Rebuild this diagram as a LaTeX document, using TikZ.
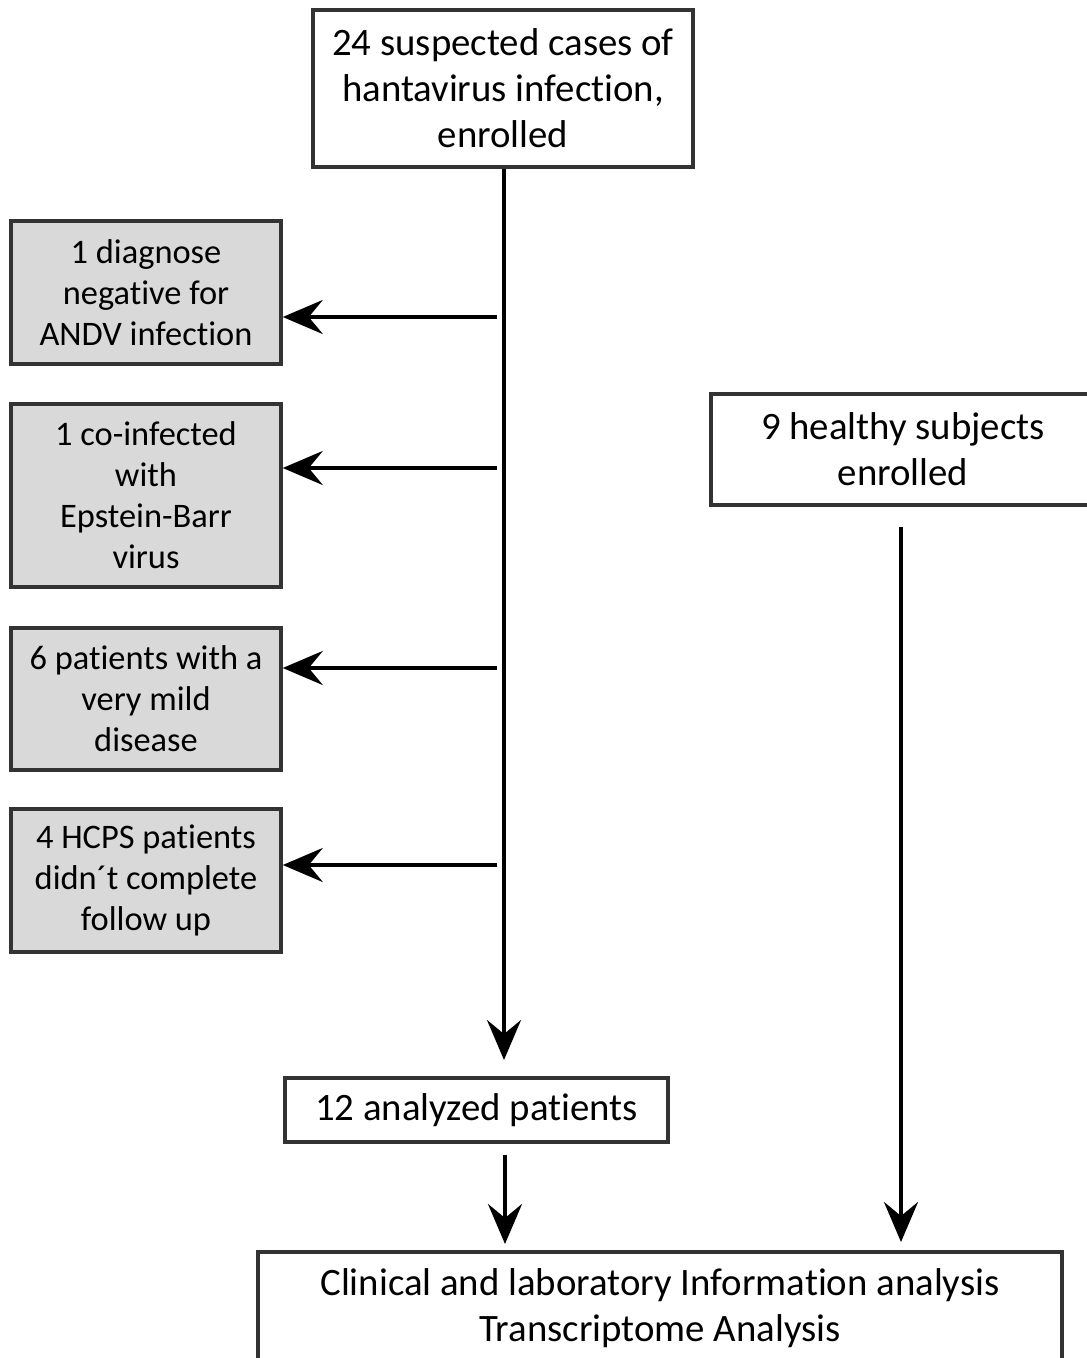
\documentclass[tikz,border=0pt]{standalone}
\usepackage{fontspec}
\setmainfont{Carlito}[Ligatures={NoCommon,NoContextual}]
\usetikzlibrary{arrows.meta}
\definecolor{boxline}{HTML}{333333}
\definecolor{boxgray}{HTML}{D9D9D9}
\tikzset{
  box/.style={draw=boxline, line width=3.5pt, align=center, inner sep=0pt, fill=white},
  graybox/.style={box, fill=boxgray, minimum width=270, font=\fontsize{34.4}{41}\selectfont},
  bigtext/.style={font=\fontsize{38.8}{46}\selectfont},
  arr/.style={line width=4pt, -{Stealth[length=40pt,width=34pt,inset=14pt]}}
}
\begin{document}
\begin{tikzpicture}[x=1pt,y=-1pt]
\useasboundingbox (0,0) rectangle (1087,1358);
\clip (0,0) rectangle (1087,1358);
\node[box, bigtext, minimum width=380, minimum height=157] (top) at (503,88.5)
  {24 suspected cases of\\hantavirus infection,\\enrolled};
\node[graybox, minimum height=143] (b1) at (146,292.5)
  {1 diagnose\\negative for\\ANDV infection};
\node[graybox, minimum height=183] (b2) at (146,495.5)
  {1 co-infected\\with\\Epstein-Barr\\virus};
\node[graybox, minimum height=142] (b3) at (146,699)
  {6 patients with a\\very mild\\disease};
\node[graybox, minimum height=143] (b4) at (146,880.5)
  {4 HCPS patients\\didn´t complete\\follow up};
\node[box, bigtext, minimum width=384, minimum height=111] (hs) at (903,449.5)
  {9 healthy subjects\\enrolled};
\node[box, bigtext, minimum width=383, minimum height=64] (ana) at (476.5,1110)
  {12 analyzed patients};
\node[box, bigtext, minimum width=804, minimum height=112] (fin) at (660,1308)
  {Clinical and laboratory Information analysis\\Transcriptome Analysis};
\coordinate (mainend) at (504,1060);
\coordinate (s1) at (497,317);
\coordinate (s2) at (497,468);
\coordinate (s3) at (497,668);
\coordinate (s4) at (497,865);
\coordinate (hstart) at (901,527);
\coordinate (hend) at (901,1242);
\coordinate (astart) at (505,1155);
\coordinate (aend) at (505,1244);
\draw[arr] (top.south -| mainend) -- (mainend);
\draw[arr] (s1) -- (b1.east |- s1);
\draw[arr] (s2) -- (b2.east |- s2);
\draw[arr] (s3) -- (b3.east |- s3);
\draw[arr] (s4) -- (b4.east |- s4);
\draw[arr] (hstart) -- (hend);
\draw[arr] (astart) -- (aend);
\end{tikzpicture}
\end{document}
